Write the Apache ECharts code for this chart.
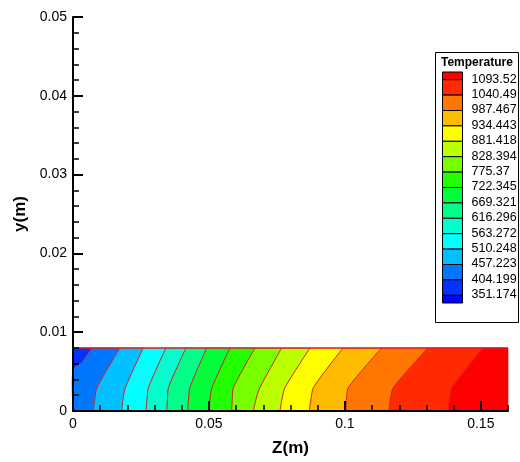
<!DOCTYPE html>
<html>
<head>
<meta charset="utf-8">
<script src="https://cdn.jsdelivr.net/npm/echarts@6/dist/echarts.min.js"></script>
<style>
html,body{margin:0;padding:0;background:#fff;}
#chart{width:520px;height:462px;}
</style>
</head>
<body>
<div id="chart"></div>
<script>
// ---- data ----
const legendTitle = 'Temperature';
const levels = [1093.52, 1040.49, 987.467, 934.443, 881.418, 828.394, 775.37, 722.345, 669.321, 616.296, 563.272, 510.248, 457.223, 404.199, 351.174];
const legendColors = ['#ff0000','#ff2a00','#ff7700','#ffbb00','#ffff00','#bbff00','#77ff00','#22ff00','#00ff3a','#00ff88','#00ffcc','#00ffff','#00c0ff','#0077ff','#0033ff','#0000ff'];
// regions from left (low temperature) to right (high temperature)
const regionColors = ['#0033ff','#0077ff','#00c0ff','#00ffff','#00ffcc','#00ff88','#00ff3a','#22ff00','#77ff00','#bbff00','#ffff00','#ffbb00','#ff7700','#ff2a00','#ff0000'];

// iso-lines, each listed top (y=0.008) to bottom (y=0), [Z, y]
const leftEdge = [[0,0.008],[0,0]];
const iso404 = [[0.0070,0.008],[0.0033,0.0062],[0,0.0053],[0,0]];
const iso457 = [[0.01729,0.008],[0.00883,0.003],[0.00802,0.0015],[0.00747,0]];
const iso510 = [[0.02586,0.008],[0.01931,0.003],[0.01839,0.0015],[0.01791,0]];
const iso563 = [[0.03421,0.008],[0.02777,0.003],[0.02722,0.0015],[0.02685,0]];
const iso616 = [[0.04156,0.008],[0.03513,0.003],[0.03476,0.0015],[0.03446,0]];
const iso669 = [[0.04918,0.008],[0.04303,0.003],[0.04248,0.0015],[0.04219,0]];
const iso722 = [[0.05775,0.008],[0.05113,0.003],[0.05039,0.0015],[0.05002,0]];
const iso775 = [[0.06694,0.008],[0.05903,0.003],[0.05859,0.0015],[0.05837,0]];
const iso828 = [[0.07676,0.008],[0.06878,0.003],[0.06731,0.0015],[0.06632,0]];
const iso881 = [[0.08717,0.008],[0.07798,0.003],[0.07687,0.0015],[0.07614,0]];
const iso934 = [[0.09931,0.008],[0.08846,0.003],[0.08754,0.0015],[0.08691,0]];
const iso987 = [[0.11354,0.008],[0.10133,0.003],[0.10060,0.0015],[0.10030,0]];
const iso1040 = [[0.13057,0.008],[0.11788,0.003],[0.11678,0.0015],[0.11623,0]];
const iso1093 = [[0.15080,0.008],[0.13940,0.003],[0.13848,0.0015],[0.13793,0]];
const rightEdge = [[0.16,0.008],[0.16,0]];
const topEdge = [[0,0.008],[0.16,0.008]];

const xMajorTicks = [0, 0.05, 0.1, 0.15];
const xMinorTicks = [0.01,0.02,0.03,0.04,0.06,0.07,0.08,0.09,0.11,0.12,0.13,0.14,0.16];
const yMajorTicks = [0, 0.01, 0.02, 0.03, 0.04, 0.05];
const yMinorTicks = [0.002,0.004,0.006,0.008,0.012,0.014,0.016,0.018,0.022,0.024,0.026,0.028,0.032,0.034,0.036,0.038,0.042,0.044,0.046,0.048];

// ---- build ----
const boundaries = [leftEdge, iso404, iso457, iso510, iso563, iso616, iso669, iso722, iso775, iso828, iso881, iso934, iso987, iso1040, iso1093, rightEdge];
const isoLines = boundaries.slice(1, boundaries.length - 1).concat([topEdge]);

const chart = echarts.init(document.getElementById('chart'), null, {renderer: 'canvas'});

const regionData = regionColors.map((c, i) => [i]);
const lineData = isoLines.map((l, i) => [i]);

function renderRegion(params, api) {
  const k = params.dataIndex;
  const a = boundaries[k];
  const b = boundaries[k + 1];
  const pts = a.concat(b.slice().reverse()).map(p => api.coord(p));
  return {
    type: 'polygon',
    shape: {points: pts},
    style: {fill: regionColors[k], stroke: regionColors[k], lineWidth: 0.6}
  };
}
function renderLine(params, api) {
  const k = params.dataIndex;
  const pts = isoLines[k].map(p => api.coord(p));
  const isTop = k === isoLines.length - 1;
  return {
    type: 'polyline',
    shape: {points: pts, smooth: isTop ? 0 : 0.25},
    style: {fill: null, stroke: '#dc1820', lineWidth: isTop ? 1.6 : 1}
  };
}

// legend graphic
const LX = 435, LY = 52, LW = 83, LH = 270;
const SX = 442, SW = 20, ST = 71.5, SH = 15.4;
const gfx = [];
gfx.push({type: 'rect', shape: {x: LX + 0.5, y: LY + 0.5, width: LW, height: LH}, style: {fill: '#fff', stroke: '#000', lineWidth: 1}, z: 10});
gfx.push({type: 'text', x: 441, y: 63, style: {text: legendTitle, font: 'bold 12px "Liberation Sans", Arial, sans-serif', fill: '#000', textVerticalAlign: 'middle', textAlign: 'left'}, z: 11});
let yy = ST;
legendColors.forEach((c, i) => {
  const h = (i === 0 || i === legendColors.length - 1) ? SH / 2 : SH;
  gfx.push({type: 'rect', shape: {x: SX + 0.5, y: yy + 0.5, width: SW, height: h}, style: {fill: c, stroke: '#000', lineWidth: 1}, z: 11});
  yy += h;
});
levels.forEach((v, i) => {
  gfx.push({type: 'text', x: 471.5, y: ST + SH / 2 + i * SH, style: {text: String(v), font: '12.5px "Liberation Sans", Arial, sans-serif', fill: '#000', textVerticalAlign: 'middle', textAlign: 'left'}, z: 11});
});

const fontFam = '"Liberation Sans", Arial, sans-serif';
const option = {
  animation: false,
  backgroundColor: '#fff',
  grid: {left: 73, right: 12, top: 17, bottom: 50, containLabel: false},
  xAxis: [
    {
      type: 'value', min: 0, max: 0.16, position: 'bottom', z: 5,
      axisLine: {show: true, onZero: false, lineStyle: {color: '#000', width: 2}},
      axisTick: {show: true, inside: true, length: 10, lineStyle: {color: '#000', width: 2}, customValues: xMajorTicks},
      axisLabel: {show: true, customValues: xMajorTicks, color: '#000', fontSize: 14, fontFamily: fontFam, margin: 6, formatter: v => String(v)},
      splitLine: {show: false},
      name: 'Z(m)', nameLocation: 'middle', nameGap: 29,
      nameTextStyle: {color: '#000', fontSize: 17, fontWeight: 'bold', fontFamily: fontFam}
    },
    {
      type: 'value', min: 0, max: 0.16, position: 'bottom', z: 5,
      axisLine: {show: false, onZero: false},
      axisTick: {show: true, inside: true, length: 6, lineStyle: {color: '#000', width: 1.5}, customValues: xMinorTicks},
      axisLabel: {show: false},
      splitLine: {show: false}
    }
  ],
  yAxis: [
    {
      type: 'value', min: 0, max: 0.05, position: 'left', z: 5,
      axisLine: {show: true, onZero: false, lineStyle: {color: '#000', width: 2}},
      axisTick: {show: true, inside: true, length: 10, lineStyle: {color: '#000', width: 2}, customValues: yMajorTicks},
      axisLabel: {show: true, customValues: yMajorTicks, color: '#000', fontSize: 14, fontFamily: fontFam, margin: 6, formatter: v => String(v)},
      splitLine: {show: false},
      name: 'y(m)', nameLocation: 'middle', nameGap: 40, nameRotate: 90,
      nameTextStyle: {color: '#000', fontSize: 17, fontWeight: 'bold', fontFamily: fontFam}
    },
    {
      type: 'value', min: 0, max: 0.05, position: 'left', z: 5,
      axisLine: {show: false, onZero: false},
      axisTick: {show: true, inside: true, length: 6, lineStyle: {color: '#000', width: 1.5}, customValues: yMinorTicks},
      axisLabel: {show: false},
      splitLine: {show: false}
    }
  ],
  series: [
    {type: 'custom', xAxisIndex: 0, yAxisIndex: 0, renderItem: renderRegion, data: regionData, z: 2, silent: true},
    {type: 'custom', xAxisIndex: 0, yAxisIndex: 0, renderItem: renderLine, data: lineData, z: 3, silent: true}
  ],
  graphic: gfx
};
chart.setOption(option);
</script>
</body>
</html>
